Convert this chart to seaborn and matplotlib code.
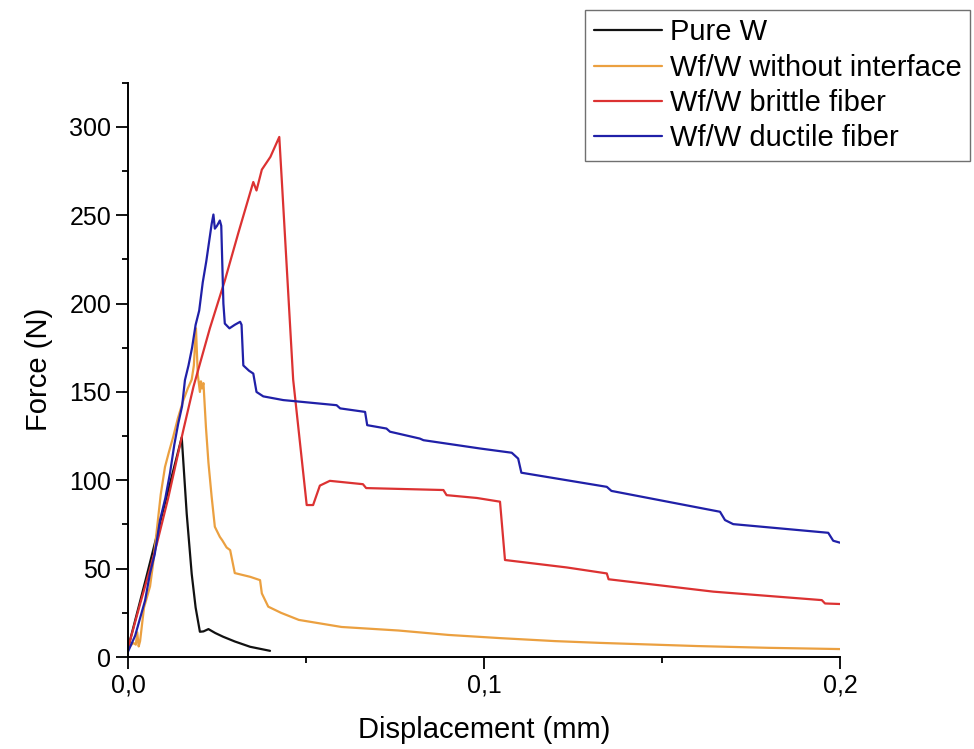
import pandas as pd
import matplotlib.pyplot as plt
import seaborn as sns
from matplotlib.ticker import MultipleLocator, FixedLocator

# force-displacement curves
pure_w_x = [0.0, 0.005, 0.010, 0.0151, 0.0165, 0.0179, 0.0190, 0.0202, 0.0212,
            0.0226, 0.0245, 0.0267, 0.0300, 0.0343, 0.0399]
pure_w_y = [5, 44, 84, 124.3, 81, 47, 28, 14.3, 14.5, 15.8, 13.6, 11.5, 8.8, 5.8, 3.5]

no_int_x = [0.0, 0.0015, 0.0022, 0.0026, 0.0030, 0.0034, 0.0045, 0.0062, 0.0070,
            0.0080, 0.0092, 0.0104, 0.0115, 0.0127, 0.0140, 0.0155, 0.0168,
            0.0179, 0.0185, 0.0191, 0.0196, 0.0202, 0.0205, 0.0208, 0.0212,
            0.0219, 0.0226, 0.0235, 0.0244, 0.0258, 0.0265, 0.0277, 0.0287,
            0.0300, 0.0343, 0.0371, 0.0376, 0.0394, 0.0430, 0.0480, 0.0600,
            0.0760, 0.0900, 0.1045, 0.1200, 0.1326, 0.1600, 0.1800, 0.2000]
no_int_y = [5, 8, 7, 14, 6, 9, 28, 40, 52, 70, 92, 107.6, 116, 124.6, 135, 145,
            152, 157, 165, 186, 160, 150, 156, 152, 155, 130, 110, 90.7, 73.7,
            68, 66, 62, 60.5, 47.5, 45.4, 43.5, 36, 28.5, 25, 21, 17, 15, 12.5,
            10.7, 9, 8, 6.2, 5.2, 4.5]

brittle_x = [0.0, 0.0034, 0.0062, 0.0081, 0.0113, 0.0155, 0.0184, 0.0230, 0.0272,
             0.0310, 0.0352, 0.0361, 0.0376, 0.0400, 0.0425, 0.0432, 0.0464,
             0.0502, 0.0520, 0.0539, 0.0567, 0.0660, 0.0669, 0.0886, 0.0895,
             0.0980, 0.1045, 0.1059, 0.1232, 0.1345, 0.1350, 0.1644, 0.1949,
             0.1958, 0.2000]
brittle_y = [5, 30, 50, 64, 90, 128, 153, 186, 213, 240, 268.8, 264, 275.8, 283,
             294.3, 270, 157, 86, 86, 97, 99.7, 97.8, 95.6, 94.5, 91.6, 90, 87.9,
             54.9, 50.7, 47.3, 44, 37, 32.2, 30.3, 30]

ductile_x = [0.0, 0.0020, 0.0048, 0.0062, 0.0075, 0.0090, 0.0105, 0.0118, 0.0130,
             0.0141, 0.0152, 0.0160, 0.0170, 0.0180, 0.0190, 0.0200, 0.0210,
             0.0220, 0.0230, 0.0235, 0.0240, 0.0244, 0.0250, 0.0258, 0.0262,
             0.0268, 0.0272, 0.0285, 0.0291, 0.0300, 0.0315, 0.0319, 0.0324,
             0.0340, 0.0352, 0.0361, 0.0380, 0.0436, 0.0586, 0.0596, 0.0666,
             0.0672, 0.0726, 0.0736, 0.0820, 0.0830, 0.0989, 0.1078, 0.1096,
             0.1105, 0.1345, 0.1358, 0.1663, 0.1677, 0.1700, 0.1967, 0.1981,
             0.2000]
ductile_y = [3, 12, 32, 47.5, 58, 77.5, 90, 104, 120, 132, 142, 156.7, 165, 175,
             188, 196, 212, 224, 238, 245, 250.4, 242.4, 244, 247, 244, 200,
             188.7, 186, 186.8, 188, 189.7, 188, 165, 162, 160.4, 150, 147.5,
             145.4, 142.5, 140.7, 138.7, 131.2, 129.3, 127.5, 123.6, 122.7, 118,
             115.6, 112.3, 104.3, 96.3, 94, 82.2, 77.5, 75.2, 70.3, 65.8, 64.7]

labels = ["Pure W", "Wf/W without interface", "Wf/W brittle fiber",
          "Wf/W ductile fiber"]
colors = ["#111111", "#EBA040", "#DC3232", "#2020A8"]

frames = []
for lab, xs, ys in zip(labels,
                       [pure_w_x, no_int_x, brittle_x, ductile_x],
                       [pure_w_y, no_int_y, brittle_y, ductile_y]):
    frames.append(pd.DataFrame({"x": xs, "y": ys, "series": lab}))
df = pd.concat(frames, ignore_index=True)

sns.set_style("ticks")
plt.rcParams["font.family"] = ["Liberation Sans", "DejaVu Sans"]
plt.rcParams["text.color"] = "black"
plt.rcParams["axes.labelcolor"] = "black"
plt.rcParams["xtick.color"] = "black"
plt.rcParams["ytick.color"] = "black"

fig = plt.figure(figsize=(9.74, 7.49), dpi=100)
ax = fig.add_axes([0.1314, 0.1228, 0.731, 0.7668])

sns.lineplot(data=df, x="x", y="y", hue="series", hue_order=labels,
             palette=dict(zip(labels, colors)), units="series",
             estimator=None, sort=False, linewidth=1.6, ax=ax)

ax.set_xlim(0, 0.2)
ax.set_ylim(0, 325)
ax.xaxis.set_major_locator(FixedLocator([0.0, 0.1, 0.2]))
ax.set_xticklabels(["0,0", "0,1", "0,2"])
ax.xaxis.set_minor_locator(FixedLocator([0.05, 0.15]))
ax.yaxis.set_major_locator(MultipleLocator(50))
ax.yaxis.set_minor_locator(MultipleLocator(25))
ax.tick_params(which="major", direction="out", length=8.5, width=1.3,
               labelsize=18, colors="black")
ax.tick_params(which="minor", direction="out", length=4.5, width=1.3,
               colors="black")

for side in ["top", "right"]:
    ax.spines[side].set_visible(False)
for side in ["left", "bottom"]:
    ax.spines[side].set_linewidth(1.4)
    ax.spines[side].set_color("black")

ax.set_xlabel("Displacement (mm)", fontsize=21, labelpad=13)
ax.set_ylabel("Force (N)", fontsize=21, labelpad=12)

handles, _ = ax.get_legend_handles_labels()
leg = ax.legend(handles, labels, loc="upper right",
                bbox_to_anchor=(0.996, 0.987), bbox_transform=fig.transFigure,
                fontsize=21, frameon=True, fancybox=False, borderpad=0.3,
                handlelength=2.35, handletextpad=0.25, labelspacing=0.25,
                borderaxespad=0)
leg.get_frame().set_edgecolor("#707070")
leg.get_frame().set_linewidth(1.0)
leg.get_frame().set_alpha(1)

fig.savefig("out.png", dpi=100)
